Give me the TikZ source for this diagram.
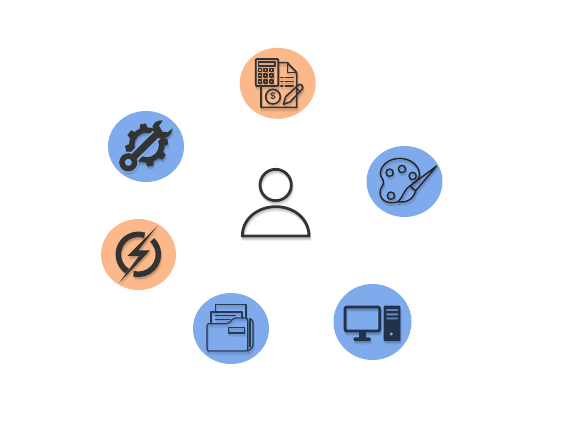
\documentclass[tikz,border=0pt]{standalone}
\usepackage{fontspec}
\setmainfont{Liberation Sans}
\definecolor{orangebg}{HTML}{FBB98B}
\definecolor{bluebg}{HTML}{7FAAEC}
\definecolor{darkink}{HTML}{333333}
\definecolor{navyink}{HTML}{22324A}
\definecolor{folderink}{HTML}{2A3A4E}
\tikzset{
  zo/.style 2 args={shift={(#1pt,-#2pt)},x=.3333pt,y=-.3333pt},
  ln/.style={draw=ink,line width=#1pt,line join=round,line cap=round},
  ln/.default=1.2,
}
\newcommand\softshadow[2]{%
  \begin{scope}[shift={(.4pt,-1.2pt)},opacity=.10]\colorlet{ink}{black}#2\end{scope}%
  \begin{scope}[shift={(.8pt,-2.4pt)},opacity=.10]\colorlet{ink}{black}#2\end{scope}%
  \begin{scope}[shift={(1.2pt,-3.6pt)},opacity=.06]\colorlet{ink}{black}#2\end{scope}%
  \colorlet{ink}{#1}#2}
\begin{document}
\begin{tikzpicture}[x=1pt,y=-1pt]
\useasboundingbox (0,0) rectangle (570,438);
\fill[white] (0,0) rectangle (570,438);
% discs
\fill[orangebg] (277.7,83.3) ellipse[x radius=38,y radius=35.5];
\fill[bluebg]   (146,146.5)  ellipse[x radius=38,y radius=35.5];
\fill[bluebg]   (404.5,181.5) ellipse[x radius=38,y radius=35.5];
\fill[orangebg] (138.5,254.5) ellipse[x radius=37.5,y radius=35.5];
\fill[bluebg]   (231,328.5)  ellipse[x radius=38,y radius=35.5];
\fill[bluebg]   (372.5,322)  ellipse[x radius=39,y radius=38];
% person
\softshadow{darkink}{
 \begin{scope}[zo={230}{160}]
  \draw[ln=2.8] (137,75) circle[radius=47];
  \draw[ln=2.8] (37,228) .. controls (37,175) and (85,140) .. (138,140) .. controls (190,140) and (237,175) .. (237,228) -- cycle;
 \end{scope}}
% accounting
\colorlet{halo}{orangebg}
\softshadow{darkink}{
 \begin{scope}[zo={230}{40}]
  \draw[ln=1.7,rounded corners=1pt] (77,57) rectangle (145,138);
  \draw[ln=1.3] (85,66) rectangle (135,78);
  \foreach \px in {90,107,125}\foreach \py in {90,107,125}
    \draw[ln=1.5] (\px-4.5,\py-4.5) rectangle (\px+4.5,\py+4.5);
  \draw[ln=1.6] (145,68) -- (172,68) -- (200,97) -- (200,202) -- (93,202) -- (93,138);
  \draw[ln=1.3] (172,68) -- (172,97) -- (200,97);
  \foreach \py in {112,125,138}{
    \draw[ln=1.3] (152,\py) -- (159,\py);
    \draw[ln=1.3] (165,\py) -- (190,\py);}
  \draw[ln=1.6] (129,170) circle[radius=22];
  \draw[ln=1.6] (160,193) -- (167,170) -- (206,134) .. controls (213,130) and (222,140) .. (217,147) -- (180,186) -- cycle;
  \draw[ln=1.2] (198,142) -- (210,155);
 \end{scope}}
\node[text=darkink,font=\bfseries\fontsize{9.5}{10}\selectfont,inner sep=0pt] (dollar) at (273,96.7) {\$};
% gear and wrench
\colorlet{halo}{bluebg}
\softshadow{darkink}{
 \begin{scope}[zo={100}{105}]
  \fill[ink,even odd rule] (140,120) circle[radius=53] (140,120) circle[radius=37];
  \foreach \a in {10,55,100,145,190,235,280,325}
    \fill[ink,rotate around={\a:(140,120)}] (128,72) -- (131,56) -- (149,56) -- (152,72) -- cycle;
  \draw[halo,line width=11pt,line cap=round] (85,172) -- (190,70);
  \draw[halo,line width=3pt] (85,172) circle[radius=27];
  \fill[ink] (157,75) .. controls (155,55) and (170,45) .. (188,46) -- (177,62) -- (187,80) -- (203,82) -- (218,70) .. controls (215,90) and (200,105) .. (177,100) -- cycle;
  \draw[ink,line width=7pt] (85,172) -- (170,88);
  \fill[halo] (85,172) circle[radius=12];
  \draw[ink,line width=5.5pt] (85,172) circle[radius=19];
 \end{scope}}
% palette
\softshadow{black!85}{
 \begin{scope}[zo={360}{140}]
  \draw[ln=1.4] (62,92) .. controls (72,62) and (105,52) .. (130,56) .. controls (160,60) and (182,85) .. (178,108) .. controls (176,124) and (160,124) .. (152,138);
  \draw[ln=1.4] (116,184) .. controls (92,195) and (62,185) .. (60,160) .. controls (58,142) and (75,135) .. (70,122) .. controls (65,112) and (58,105) .. (62,92);
  \foreach \px/\py in {89/98,126/87,158/108,93/167}
    \draw[ln=1.4] (\px,\py) circle[radius=11];
  \draw[ln=1.4] (230,78) -- (160,130) -- (150,138) -- (167,152) -- (176,142) -- cycle;
  \draw[ln=1.4] (150,138) .. controls (130,150) and (130,172) .. (114,185) .. controls (135,190) and (160,180) .. (167,152);
 \end{scope}}
% power
\colorlet{halo}{orangebg}
\softshadow{darkink}{
 \begin{scope}[zo={95}{212}]
  \draw[ink,line width=5.5pt] ([shift={(-72:60)}]130,127) arc[start angle=-72,end angle=-237,radius=60];
  \draw[ink,line width=5.5pt] ([shift={(-46:60)}]130,127) arc[start angle=-46,end angle=104,radius=60];
  \fill[ink] (187,42) -- (97,132) -- (132,132) -- (72,213) -- (165,115) -- (130,115) -- cycle;
 \end{scope}}
% folder
\softshadow{folderink}{
 \begin{scope}[zo={187}{287}]
  \draw[ln=1.2] (85,75) -- (85,52) -- (177,52) -- (177,93);
  \draw[ln=1.2] (72,108) -- (72,75) -- (165,75) -- (165,93);
  \draw[ln=1.2] (85,85) -- (145,85);
  \draw[ln=1.2] (85,97) -- (130,97);
  \draw[ln=1.2,rounded corners=2pt] (60,192) -- (60,110) -- (125,110) -- (140,93) -- (182,93) -- (182,192) -- cycle;
  \draw[ln=1.2] (125,122) rectangle (172,138);
  \draw[ln=1.2] (189,95) -- (189,180);
  \draw[ln=1.2,rounded corners=3pt] (188,96) -- (198,96) -- (198,182) -- (182,192);
 \end{scope}}
% computer
\softshadow{navyink}{
 \begin{scope}[zo={328}{280}]
  \draw[ink,line width=2.8pt,rounded corners=2pt] (51,81) rectangle (155,153);
  \fill[ink] (92,155) rectangle (114,175);
  \fill[ink,rounded corners=1pt] (77,172) rectangle (128,183);
  \fill[ink,even odd rule,rounded corners=1pt] (167,77) rectangle (217,183)
     (173,87) rectangle (212,93) (173,100) rectangle (212,106) (173,113) rectangle (212,118);
  \fill[bluebg] (190,162) circle[radius=5];
 \end{scope}}
\end{tikzpicture}
\end{document}
